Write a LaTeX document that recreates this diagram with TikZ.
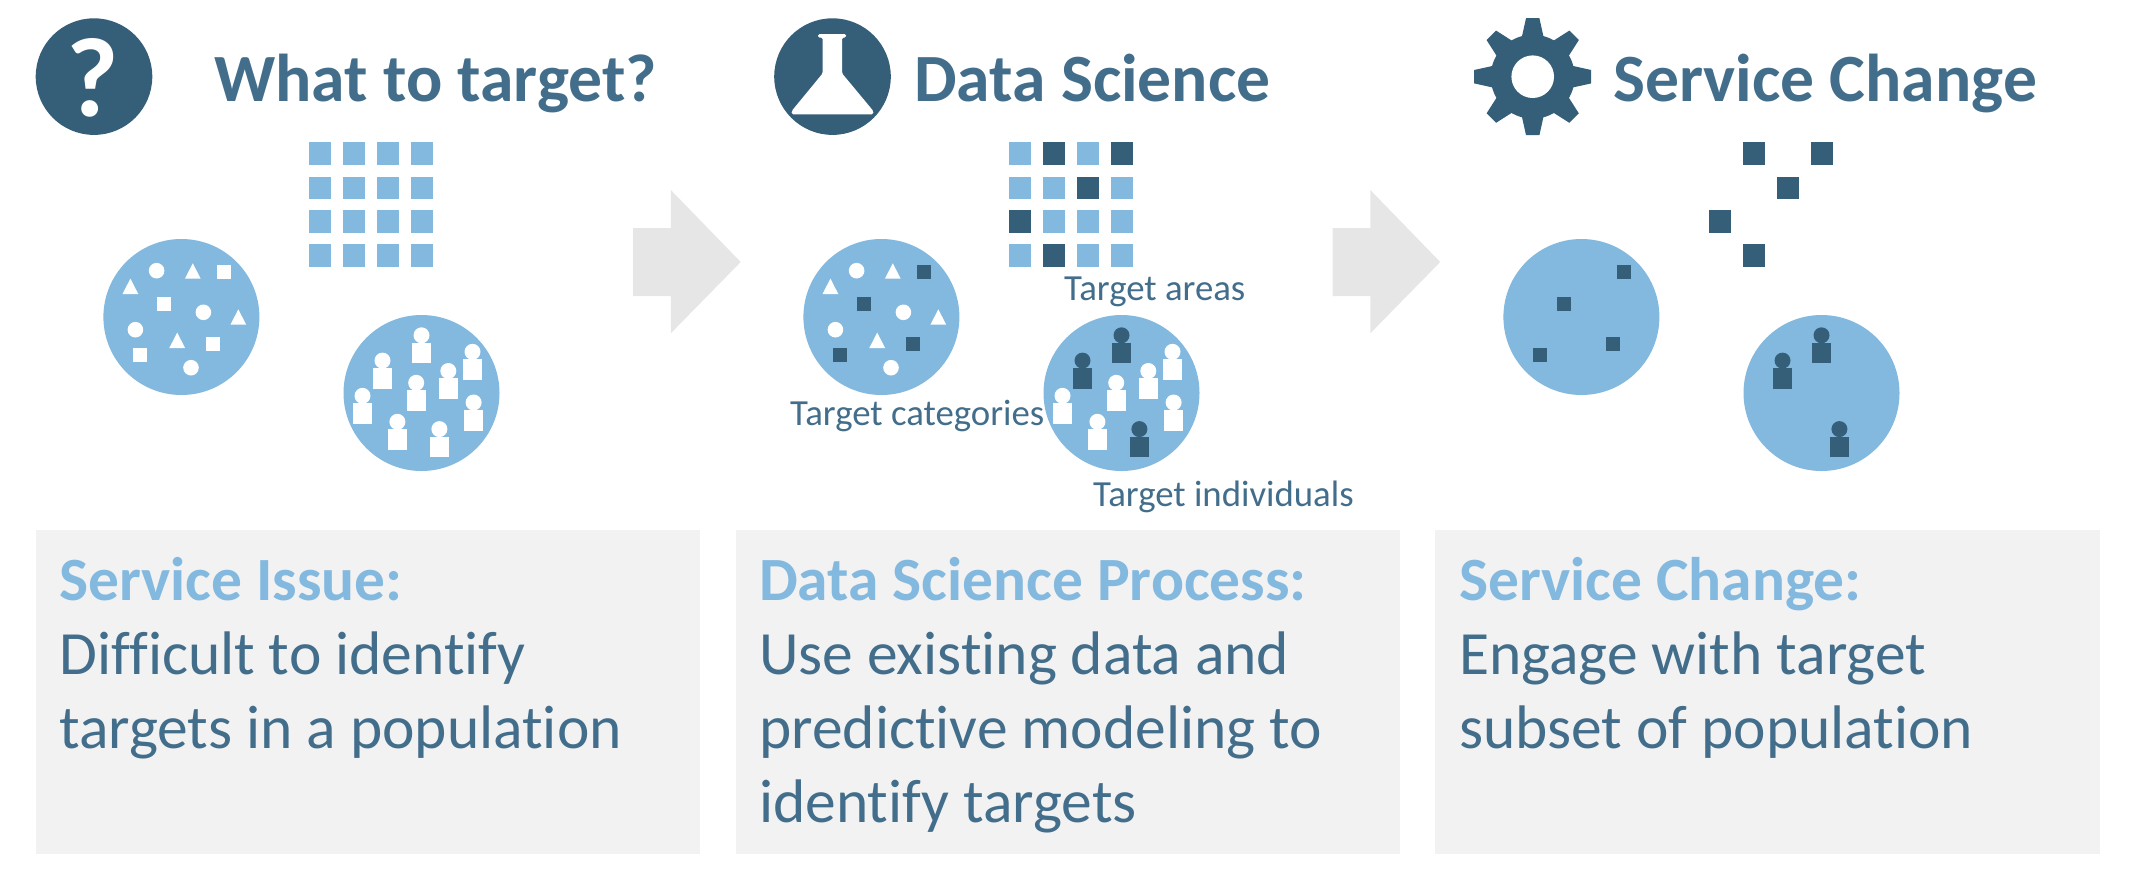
\documentclass[tikz,border=0pt]{standalone}
\usepackage{fontspec}
\setmainfont{Carlito}[Ligatures=CommonOff]

\definecolor{icondark}{HTML}{355E78}
\definecolor{titleblue}{HTML}{436E8B}
\definecolor{discblue}{HTML}{83B9DF}
\definecolor{boxgray}{HTML}{F2F2F2}
\definecolor{arrowgray}{HTML}{E6E6E6}

\def\chosenareas{354/153.5, 422/153.5, 388/188, 320/221.5, 354/255.5}
\def\chosensquares{224/272.3, 164/304, 213/343.7, 140/354.7}
\def\chosenpeople{421.5/353, 382.5/378.3, 439.4/446.8}

\newcommand{\areasquare}[3]{\fill[#1] (#2,#3) ++(-11,-11.3) rectangle ++(22,22.6);}
\newcommand{\catsquare}[3]{\fill[#1] (#2,#3) ++(-6.9,-6.9) rectangle ++(13.8,13.8);}
\newcommand{\person}[3]{%
  \fill[#1] (#2,#3) ++(-9.6,-10.3) rectangle ++(19.2,20.6);
  \fill[#1] (#2,#3) ++(0,-17.7) circle (8);}

\begin{document}
\begin{tikzpicture}[x=1pt, y=-1pt,
  title/.style={anchor=base west, inner sep=0pt, text=titleblue, font=\fontsize{67.6}{68}\selectfont\bfseries},
  tag/.style={anchor=base west, inner sep=0pt, text=titleblue, font=\fontsize{36.8}{36.8}\selectfont},
  boxhead/.style={anchor=base west, inner sep=0pt, text=discblue, font=\fontsize{61.5}{61.5}\selectfont\bfseries},
  boxbody/.style={anchor=base west, inner sep=0pt, text=titleblue, align=left, font=\fontsize{61.5}{74}\selectfont}]
  \useasboundingbox (0,0) rectangle (2132,886);

  % grey boxes and block arrows
  \foreach \x in {35.8, 735.6, 1435.4} \fill[boxgray] (\x,530) rectangle ++(664.4,324);
  \foreach \x in {0, 699.5}
    \fill[arrowgray, xshift=\x pt] (633,228) -- (670.8,228) -- (670.8,190) -- (740.7,262)
      -- (670.8,333.3) -- (670.8,296) -- (633,296) -- cycle;

  % icons
  \fill[icondark] (94,76.6) circle (58.3);
  \node[anchor=base, inner sep=0pt, text=white, font=\fontsize{113}{113}\selectfont\bfseries] (qmark) at (93,116) {?};
  \fill[icondark] (832.5,76.6) circle (58.3);
  \fill[white, rounded corners=1.5pt] (818,34) -- (846,34) -- (846,37.7) -- (842,37.7) -- (842,73.3)
    -- (873.3,111) -- (873.3,114.3) -- (791.7,114.3) -- (791.7,111) -- (822.7,73.3) -- (822.7,37.7) -- (818,37.7) -- cycle;
  \fill[icondark] (1532.7,76.7) circle (42);
  \foreach \a in {0, 45, ..., 315}
    \fill[icondark, shift={(1532.7,76.7)}, rotate=\a] (-6.7,-58.5) -- (6.7,-58.5) -- (10.8,-40) -- (-10.8,-40) -- cycle;
  \fill[white] (1532.7,76.7) circle (21.3);

  % titles
  \node[title] (whattitle) at (214,101) {What to target?};
  \node[title] (sciencetitle) at (914,101) {Data Science};
  \node[title] (changetitle) at (1613,101) {Service Change};

  % discs of all three panels
  \foreach \s in {0, 700, 1400} {
    \fill[discblue, xshift=\s pt] (181.4,317) circle (78);
    \fill[discblue, xshift=\s pt] (421.5,393) circle (78);
  }

  % what the first two panels share
  \foreach \s in {0, 700} {
    \begin{scope}[xshift=\s pt]
      \foreach \x in {320, 354, 388, 422} \foreach \y in {153.5, 188, 221.5, 255.5} {\areasquare{discblue}{\x}{\y}}
      \foreach \x/\y in {156.6/270.7, 203.4/312.3, 135.4/329.7, 191/367.7} \fill[white] (\x,\y) circle (7.8);
      \foreach \x/\y in {192.8/271, 130.4/286.3, 238.3/317, 177.2/340.3}
        \fill[white] (\x,\y) ++(0,-7.7) -- ++(7.9,15.4) -- ++(-15.8,0) -- cycle;
      \foreach \x/\y in {472.5/369.5, 448.3/388.7, 416.2/400.5, 362.5/413.5, 473.6/420.2, 397.4/439.5} {\person{white}{\x}{\y}}
    \end{scope}
  }

  % chosen ones, still white in the first panel
  \foreach \x/\y in \chosensquares {\catsquare{white}{\x}{\y}}
  \foreach \x/\y in \chosenpeople {\person{white}{\x}{\y}}
  \foreach \s in {700, 1400} {
    \begin{scope}[xshift=\s pt]
      \foreach \x/\y in \chosenareas {\areasquare{icondark}{\x}{\y}}
      \foreach \x/\y in \chosensquares {\catsquare{icondark}{\x}{\y}}
      \foreach \x/\y in \chosenpeople {\person{icondark}{\x}{\y}}
    \end{scope}
  }

  % small labels
  \node[tag] (areastag) at (1064,300) {Target areas};
  \node[tag] (categoriestag) at (790,425) {Target categories};
  \node[tag] (individualstag) at (1093,506) {Target individuals};

  % box texts
  \node[boxhead] (issuehead) at (59,600) {Service Issue:};
  \node[boxbody] (issuebody) at (59,748) {Difficult to identify\\targets in a population};
  \node[boxhead] (processhead) at (759,600) {Data Science Process:};
  \node[boxbody] (processbody) at (759,822) {Use existing data and\\predictive modeling to\\identify targets};
  \node[boxhead] (changehead) at (1459,600) {Service Change:};
  \node[boxbody] (changebody) at (1459,748) {Engage with target\\subset of population};
\end{tikzpicture}
\end{document}
